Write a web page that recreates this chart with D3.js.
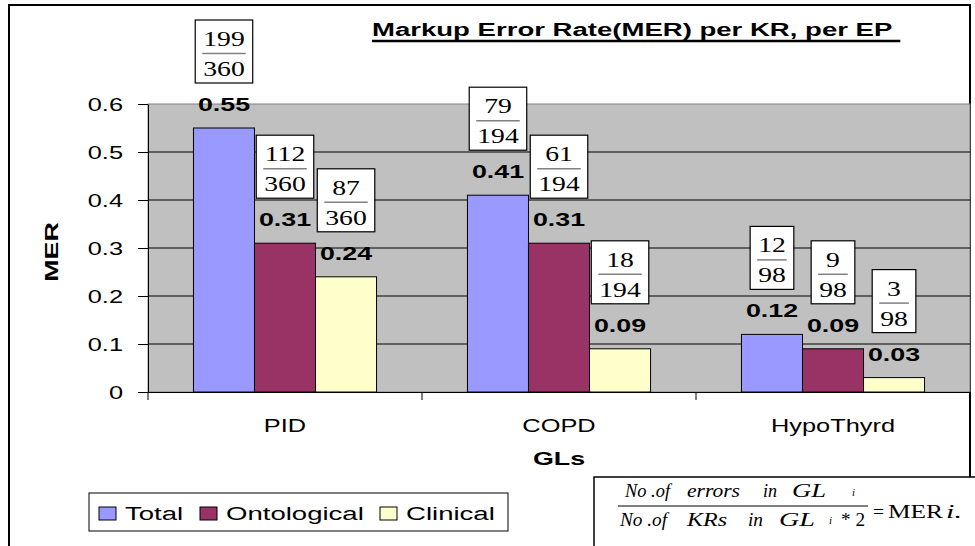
<!DOCTYPE html>
<html>
<head>
<meta charset="utf-8">
<script src="https://cdn.jsdelivr.net/npm/d3@7"></script>
<style>
  body { margin: 0; background: #fff; }
  svg { display: block; }
</style>
</head>
<body>
<svg id="chart"></svg>
<script>
// data
const categories = ["PID", "COPD", "HypoThyrd"];
const seriesNames = ["Total", "Ontological", "Clinical"];
const totalValues = [0.55, 0.41, 0.12];
const ontologicalValues = [0.31, 0.31, 0.09];
const clinicalValues = [0.24, 0.09, 0.03];
const totalErrors = [199, 79, 12];
const ontologicalErrors = [112, 61, 9];
const clinicalErrors = [87, 18, 3];
const krCounts = [360, 194, 98];
const yTicks = [0, 0.1, 0.2, 0.3, 0.4, 0.5, 0.6];

const width = 975, height = 546;
const SX = 1.45; // the original text is rendered wide
const colors = { Total: "#9999FF", Ontological: "#993366", Clinical: "#FFFFCC" };
const sans = "'Liberation Sans', Arial, sans-serif";
const serif = "'Liberation Serif', 'Times New Roman', serif";

const valuesBySeries = [totalValues, ontologicalValues, clinicalValues];
const errorsBySeries = [totalErrors, ontologicalErrors, clinicalErrors];

const svg = d3.select("#chart").attr("width", width).attr("height", height);

// helper for wide text
function wideText(g, x, y, txt, o = {}) {
  const t = g.append("text")
    .attr("transform", `translate(${x},${y}) rotate(${o.rotate || 0}) scale(${o.sx || SX},1)`)
    .attr("text-anchor", o.anchor || "start")
    .attr("font-family", o.family || sans)
    .attr("font-size", o.size || 17.5)
    .attr("font-weight", o.weight || "normal")
    .attr("font-style", o.style || "normal")
    .attr("fill", "#000")
    .text(txt);
  return t;
}

// text squeezed to a given width (formula)
function fitText(g, x, y, txt, len, o = {}) {
  return g.append("text")
    .attr("x", x).attr("y", y)
    .attr("textLength", len).attr("lengthAdjust", "spacingAndGlyphs")
    .attr("font-family", o.family || serif)
    .attr("font-size", o.size || 18)
    .attr("font-style", o.style || "italic")
    .attr("fill", "#000")
    .text(txt);
}

// outer chart border
svg.append("rect")
  .attr("x", 9).attr("y", 5)
  .attr("width", 961).attr("height", 600)
  .attr("fill", "#fff").attr("stroke", "#000").attr("stroke-width", 2);

const plot = { left: 148, right: 970, top: 104, bottom: 392 };

const x = d3.scaleBand().domain(categories).range([plot.left, plot.right]);
const xInner = d3.scaleBand().domain(seriesNames).range([0, x.bandwidth()])
  .paddingInner(0).paddingOuter(0.745);
const y = d3.scaleLinear().domain([0, 0.6]).range([plot.bottom, plot.top]);

// plot background
svg.append("rect")
  .attr("x", plot.left).attr("y", plot.top)
  .attr("width", plot.right - plot.left).attr("height", plot.bottom - plot.top)
  .attr("fill", "#C0C0C0").attr("stroke", "#808080").attr("stroke-width", 1);

// gridlines
svg.append("g")
  .selectAll("line")
  .data(yTicks.filter(d => d > 0 && d < 0.6))
  .join("line")
  .attr("x1", plot.left).attr("x2", plot.right)
  .attr("y1", d => y(d)).attr("y2", d => y(d))
  .attr("stroke", "#000").attr("stroke-width", 1);

// y axis
const yAxis = svg.append("g")
  .attr("transform", `translate(${plot.left},0)`)
  .call(d3.axisLeft(y).tickValues(yTicks).tickSize(10).tickSizeOuter(0).tickFormat(() => ""));
yAxis.select(".domain").attr("stroke", "#000");
yAxis.selectAll(".tick line").attr("stroke", "#000");
yTicks.forEach(v => {
  wideText(svg, 123, y(v) + 6.5, d3.format("")(v), { anchor: "end", size: 17.5 });
});

// x axis
const xAxis = svg.append("g")
  .attr("transform", `translate(0,${plot.bottom})`)
  .call(d3.axisBottom(x).tickSize(0).tickSizeOuter(0).tickFormat(() => ""));
xAxis.select(".domain").attr("stroke", "#000");
const bounds = categories.map(c => x(c)).concat([plot.right]);
svg.append("g").selectAll("line").data(bounds).join("line")
  .attr("x1", d => d).attr("x2", d => d)
  .attr("y1", plot.bottom).attr("y2", plot.bottom + 8)
  .attr("stroke", "#000");
categories.forEach(c => {
  wideText(svg, x(c) + x.bandwidth() / 2, 432, c, { anchor: "middle", size: 17.5 });
});

// bars
const bars = [];
categories.forEach((c, ci) => {
  seriesNames.forEach((s, si) => {
    bars.push({ cat: c, series: s, value: valuesBySeries[si][ci], err: errorsBySeries[si][ci], kr: krCounts[ci] });
  });
});

svg.append("g").selectAll("rect").data(bars).join("rect")
  .attr("x", d => x(d.cat) + xInner(d.series))
  .attr("y", d => y(d.value))
  .attr("width", xInner.bandwidth())
  .attr("height", d => y(0) - y(d.value))
  .attr("fill", d => colors[d.series])
  .attr("stroke", "#000").attr("stroke-width", 1);

// value labels and fraction boxes
const FS = 1.35;
bars.forEach(d => {
  const cx = x(d.cat) + xInner(d.series) + xInner.bandwidth() / 2;
  const top = y(d.value);
  wideText(svg, cx, top - 17, d3.format(".2f")(d.value), { anchor: "middle", size: 18.5, weight: "bold" });

  const g = svg.append("g");
  const boxTop = top - 45 - 63;
  const box = g.append("rect")
    .attr("y", boxTop).attr("height", 63)
    .attr("fill", "#fff").attr("stroke", "#000").attr("stroke-width", 1.2);
  const num = wideText(g, cx, boxTop + 26, String(d.err), { anchor: "middle", family: serif, size: 20.5, sx: FS });
  const den = wideText(g, cx, boxTop + 56, String(d.kr), { anchor: "middle", family: serif, size: 20.5, sx: FS });
  const tw = Math.max(num.node().getComputedTextLength(), den.node().getComputedTextLength()) * FS;
  const bw = tw + 16;
  box.attr("x", cx - bw / 2).attr("width", bw);
  g.append("line")
    .attr("x1", cx - tw / 2 - 1).attr("x2", cx + tw / 2 + 1)
    .attr("y1", boxTop + 33.5).attr("y2", boxTop + 33.5)
    .attr("stroke", "#808080").attr("stroke-width", 1.5);
});

// title
const title = wideText(svg, 372, 36, "Markup Error Rate(MER) per KR, per EP", { size: 19, weight: "bold" });
const titleW = title.node().getComputedTextLength() * SX;
svg.append("line")
  .attr("x1", 372).attr("x2", 372 + titleW + 8)
  .attr("y1", 41).attr("y2", 41)
  .attr("stroke", "#000").attr("stroke-width", 2.5);

// axis titles
wideText(svg, 58, 252, "MER", { anchor: "middle", size: 18.5, weight: "bold", rotate: -90 });
wideText(svg, 559, 465, "GLs", { anchor: "middle", size: 18.5, weight: "bold" });

// legend
const legend = svg.append("g");
legend.append("rect")
  .attr("x", 89).attr("y", 493).attr("width", 419).attr("height", 38)
  .attr("fill", "#fff").attr("stroke", "#000").attr("stroke-width", 1);
const legendX = [99, 200, 380];
seriesNames.forEach((s, i) => {
  legend.append("rect")
    .attr("x", legendX[i]).attr("y", 507).attr("width", 17).attr("height", 13)
    .attr("fill", colors[s]).attr("stroke", "#000").attr("stroke-width", 1);
  wideText(legend, legendX[i] + 26, 520, s, { size: 19 });
});

// formula box
const fb = svg.append("g");
fb.append("rect")
  .attr("x", 594).attr("y", 477).attr("width", 420).attr("height", 120)
  .attr("fill", "#fff").attr("stroke", "#000").attr("stroke-width", 1.5);
fitText(fb, 625, 497, "No .of", 45);
fitText(fb, 687, 497, "errors", 53);
fitText(fb, 763, 497, "in", 14);
fitText(fb, 792, 497, "GL", 34);
fitText(fb, 852, 496, "i", 3, { size: 11 });
fb.append("line")
  .attr("x1", 618).attr("x2", 868).attr("y1", 506).attr("y2", 506)
  .attr("stroke", "#000").attr("stroke-width", 1.2);
fitText(fb, 620, 526, "No .of", 47);
fitText(fb, 687, 526, "KRs", 40);
fitText(fb, 748, 526, "in", 15);
fitText(fb, 779, 526, "GL", 36);
fitText(fb, 829, 524, "i", 3, { size: 11 });
fitText(fb, 841, 526, "* 2", 24, { style: "normal" });
fitText(fb, 873, 518, "=", 11, { style: "normal" });
fitText(fb, 888, 518, "MER", 55, { style: "normal" });
fitText(fb, 946, 518, "i.", 16);
</script>
</body>
</html>
